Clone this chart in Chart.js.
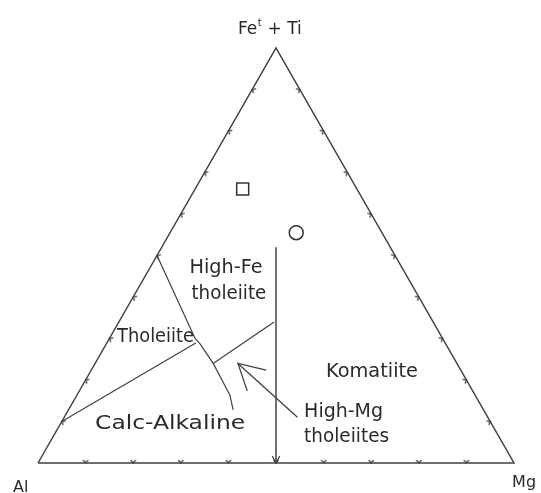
<!DOCTYPE html>
<html>
<head>
<meta charset="utf-8">
<script src="https://cdn.jsdelivr.net/npm/chart.js@4.4.1/dist/chart.umd.min.js"></script>
<style>
  html, body { margin: 0; padding: 0; background: #fff; }
  #contenitore { width: 541px; height: 493px; }
</style>
</head>
<body>
<div id="contenitore"><canvas id="ternario"></canvas></div>
<script>
// Composizioni in percento: [Al, Fe(t)+Ti, Mg]
const bordo = [[100, 0, 0], [0, 100, 0], [0, 0, 100], [100, 0, 0]];
const confineTholeiite = [[50, 50, 0], [52, 30, 18], [51.6, 28.7, 19.7], [51.2, 24, 24.8], [51.5, 16.4, 32.1], [52.6, 12.8, 34.6]];
const confineCalcAlcalino = [[90, 10, 0], [52.4, 28.9, 18.7]];
const confineAltoMg = [[51.2, 24, 24.8], [33.4, 34, 32.6]];
const linea50 = [[50, 0, 50], [24, 52, 24]];
const frecciaAltoMg = [[46, 24, 30], [40, 11, 49]];
const campioneQuadrato = [[24, 66, 10]];
const campioneCerchio = [[18, 55.5, 26.5]];
const tacche = [10, 20, 30, 40, 50, 60, 70, 80, 90];

const nomiCampi = ["High-Fe", "tholeiite", "Tholeiite", "Komatiite", "Calc-Alkaline", "High-Mg", "tholeiites"];
const nomiVertici = ["Al", "Mg"];

// ternario -> coordinate cartesiane (x 0..100, y = Fe 0..100)
function cart(p) {
    const tot = p[0] + p[1] + p[2];
    const fe = p[1] / tot * 100, mg = p[2] / tot * 100;
    return { x: mg + fe / 2, y: fe };
}

// posizione (in coordinate del grafico) e larghezza in pixel di ogni etichetta
const ancoreCampi = [
    { x: 39.5, y: 45.8, allinea: "center", larg: 73 },
    { x: 40.1, y: 39.5, allinea: "center", larg: 75 },
    { x: 16.6, y: 29.2, allinea: "left", larg: 77 },
    { x: 60.5, y: 20.7, allinea: "left", larg: 92 },
    { x: 12.0, y: 8.2, allinea: "left", larg: 150 },
    { x: 55.9, y: 11.1, allinea: "left", larg: 79 },
    { x: 55.9, y: 5.1, allinea: "left", larg: 85 }
];
const ancoreVertici = [{ x: -5.25, y: -7.0 }, { x: 99.6, y: -5.8 }];

function creaTacca() {
    const c = document.createElement("canvas");
    c.width = 8; c.height = 8;
    const g = c.getContext("2d");
    g.strokeStyle = "#444";
    g.lineWidth = 1.2;
    g.beginPath();
    g.moveTo(1.5, 1); g.lineTo(4, 4); g.lineTo(6.5, 1);
    g.stroke();
    return c;
}
const tacca = creaTacca();

const LINEA = "#404040";

function serieLinea(punti, largh) {
    return {
        data: punti.map(cart), showLine: true, pointRadius: 0,
        borderColor: LINEA, borderWidth: largh || 1.2, fill: false, tension: 0
    };
}
function serieTacche(punti, rot) {
    return { data: punti.map(cart), showLine: false, pointStyle: tacca, pointRadius: 4, pointRotation: rot };
}

const frecce = {
    id: "frecce",
    afterDatasetsDraw(chart) {
        const ctx = chart.ctx;
        chart.data.datasets.forEach((ds, i) => {
            if (!ds.punta) return;
            const pts = chart.getDatasetMeta(i).data;
            const tip = pts[0], coda = pts[1];
            const ang = Math.atan2(coda.y - tip.y, coda.x - tip.x);
            const ap = ds.punta.apertura * Math.PI / 180, L = ds.punta.lunghezza;
            ctx.save();
            ctx.strokeStyle = LINEA;
            ctx.lineWidth = 1.3;
            ctx.beginPath();
            ctx.moveTo(tip.x + L * Math.cos(ang - ap), tip.y + L * Math.sin(ang - ap));
            ctx.lineTo(tip.x, tip.y);
            ctx.lineTo(tip.x + L * Math.cos(ang + ap), tip.y + L * Math.sin(ang + ap));
            ctx.stroke();
            ctx.restore();
        });
    }
};

const etichette = {
    id: "etichette",
    afterDraw(chart) {
        const ctx = chart.ctx, sx = chart.scales.x, sy = chart.scales.y;
        ctx.save();
        ctx.fillStyle = "#2a2a2a";
        ctx.textBaseline = "alphabetic";
        ctx.font = "19px 'DejaVu Sans'";
        nomiCampi.forEach((t, i) => {
            const a = ancoreCampi[i];
            const px = sx.getPixelForValue(a.x), py = sy.getPixelForValue(a.y);
            const k = a.larg / ctx.measureText(t).width;
            ctx.save();
            ctx.translate(px, py);
            ctx.scale(k, 1);
            ctx.textAlign = a.allinea;
            ctx.fillText(t, 0, 0);
            ctx.restore();
        });
        ctx.font = "16px 'DejaVu Sans'";
        ctx.textAlign = "left";
        nomiVertici.forEach((t, i) => {
            const a = ancoreVertici[i];
            ctx.fillText(t, sx.getPixelForValue(a.x), sy.getPixelForValue(a.y));
        });
        // vertice superiore: Fe^t + Ti
        const cx = sx.getPixelForValue(48.7), by = sy.getPixelForValue(103.4);
        ctx.font = "17px 'DejaVu Sans'";
        const w1 = ctx.measureText("Fe").width, w3 = ctx.measureText(" + Ti").width;
        ctx.font = "10px 'DejaVu Sans'";
        const w2 = ctx.measureText("t").width + 1;
        let x0 = cx - (w1 + w2 + w3) / 2;
        ctx.font = "17px 'DejaVu Sans'";
        ctx.fillText("Fe", x0, by);
        ctx.font = "10px 'DejaVu Sans'";
        ctx.fillText("t", x0 + w1 + 0.5, by - 8);
        ctx.font = "17px 'DejaVu Sans'";
        ctx.fillText(" + Ti", x0 + w1 + w2, by);
        ctx.restore();
    }
};

const datasets = [
    serieLinea(bordo, 1.5),
    serieTacche(tacche.map(v => [100 - v, 0, v]), 0),
    serieTacche(tacche.map(v => [100 - v, v, 0]), 120),
    serieTacche(tacche.map(v => [0, v, 100 - v]), -120),
    serieLinea(confineTholeiite),
    serieLinea(confineCalcAlcalino),
    serieLinea(confineAltoMg),
    Object.assign(serieLinea(linea50, 1.5), { punta: { lunghezza: 8, apertura: 28 } }),
    Object.assign(serieLinea(frecciaAltoMg, 1.3), { punta: { lunghezza: 29, apertura: 29 } }),
    {
        data: campioneQuadrato.map(cart), showLine: false, pointStyle: "rect",
        pointRadius: 8.5, borderColor: "#333", borderWidth: 1.5, backgroundColor: "#fff"
    },
    {
        data: campioneCerchio.map(cart), showLine: false, pointStyle: "circle",
        pointRadius: 7, borderColor: "#333", borderWidth: 1.5, backgroundColor: "#fff"
    }
];

new Chart(document.getElementById("ternario"), {
    type: "scatter",
    data: { datasets: datasets },
    options: {
        responsive: true,
        maintainAspectRatio: false,
        animation: false,
        devicePixelRatio: 1,
        layout: { padding: 0, autoPadding: false },
        plugins: { legend: { display: false }, tooltip: { enabled: false } },
        scales: {
            x: { type: "linear", min: -7.983, max: 105.672, display: false },
            y: { type: "linear", min: -7.229, max: 111.566, display: false }
        }
    },
    plugins: [frecce, etichette]
});
</script>
</body>
</html>
